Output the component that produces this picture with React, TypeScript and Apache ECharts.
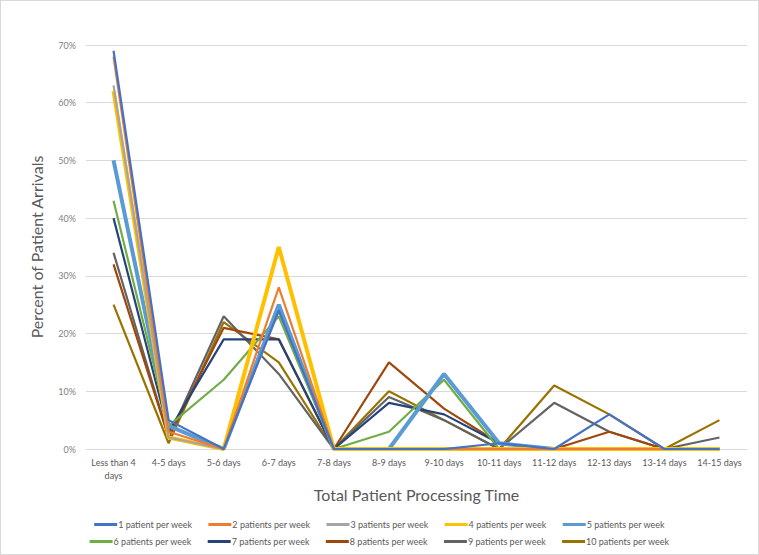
import React, { useEffect, useRef } from "react";
import * as echarts from "echarts";

const categories = [
  "Less than 4 days", "4-5 days", "5-6 days", "6-7 days", "7-8 days", "8-9 days",
  "9-10 days", "10-11 days", "11-12 days", "12-13 days", "13-14 days", "14-15 days",
];

const seriesNames = [
  "1 patient per week", "2 patients per week", "3 patients per week", "4 patients per week",
  "5 patients per week", "6 patients per week", "7 patients per week", "8 patients per week",
  "9 patients per week", "10 patients per week",
];

const s1 = [69, 5, 0, 24, 0, 0, 0, 1, 0, 6, 0, 0];
const s2 = [68, 3, 0, 28, 0, 0, 0, 0, 0, 0, 0, 0];
const s3 = [63, 2, 0, 24, 0, 0, 0, 0, 0, 0, 0, 0];
const s4 = [62, 2, 0, 35, 0, 0, 0, 0, 0, 0, 0, 0];
const s5 = [50, 4, 0, 25, 0, 0, 13, 1, 0, 0, 0, 0];
const s6 = [43, 4, 12, 23, 0, 3, 12, 0, 0, 0, 0, 0];
const s7 = [40, 3, 19, 19, 0, 8, 6, 1, 0, 0, 0, 0];
const s8 = [32, 2, 21, 19, 0, 15, 7, 1, 0, 3, 0, 0];
const s9 = [34, 2, 23, 13, 0, 9, 5, 0, 8, 3, 0, 2];
const s10 = [25, 1, 22, 15, 0, 10, 5, 0, 11, 6, 0, 5];

const seriesValues = [s1, s2, s3, s4, s5, s6, s7, s8, s9, s10];
const colors = [
  "#4472C4", "#ED7D31", "#A5A5A5", "#FFC000", "#5B9BD5",
  "#70AD47", "#264478", "#9E480E", "#636363", "#997300",
];
const widths = [2.2, 2.2, 2.2, 4, 4, 2.2, 2.2, 2.2, 2.2, 2.2];

const yTicks = [0, 10, 20, 30, 40, 50, 60, 70];

export default function App() {
  const ref = useRef<HTMLDivElement>(null);
  useEffect(() => {
    if (!ref.current) return;
    const chart = echarts.init(ref.current, null, { renderer: "svg" });
    const font = "Lato, 'Open Sans', sans-serif";
    const legendCommon = {
      icon: "rect",
      itemWidth: 23,
      itemHeight: 3,
      itemGap: 16,
      textStyle: { color: "#595959", fontSize: 9, fontFamily: font, padding: [0, 0, 0, -4] },
      left: "center",
    };
    chart.setOption({
      animation: false,
      backgroundColor: "#ffffff",
      color: colors,
      grid: { left: 85, right: 11, top: 44, bottom: 105 },
      legend: [
        { ...legendCommon, data: seriesNames.slice(0, 5), top: 514 },
        { ...legendCommon, data: seriesNames.slice(5), top: 531 },
      ],
      xAxis: {
        type: "category",
        data: categories,
        boundaryGap: true,
        name: "Total Patient Processing Time",
        nameLocation: "middle",
        nameGap: 37,
        nameTextStyle: { fontSize: 16, color: "#595959", fontFamily: font },
        axisLine: { lineStyle: { color: "#D9D9D9" } },
        axisTick: { show: false },
        axisLabel: {
          color: "#595959",
          fontSize: 9,
          lineHeight: 13,
          fontFamily: font,
          interval: 0,
          margin: 7,
          formatter: (v: string) => v.replace("Less than 4 days", "Less than 4\ndays"),
        },
      },
      yAxis: {
        type: "value",
        min: yTicks[0],
        max: yTicks[yTicks.length - 1],
        interval: 10,
        name: "Percent of Patient Arrivals",
        nameLocation: "middle",
        nameGap: 42,
        nameTextStyle: { fontSize: 16, color: "#595959", fontFamily: font },
        axisLine: { show: false },
        axisTick: { show: false },
        axisLabel: { color: "#7F7F7F", fontSize: 9, fontFamily: font, formatter: "{value}%", margin: 10 },
        splitLine: { lineStyle: { color: "#D9D9D9", width: 1 } },
      },
      series: seriesValues.map((vals, i) => ({
        name: seriesNames[i],
        type: "line",
        data: vals,
        symbol: "none",
        lineStyle: { width: widths[i], color: colors[i] },
        itemStyle: { color: colors[i] },
        z: 10 - i,
      })),
    });
    return () => chart.dispose();
  }, []);
  return (
    <div
      ref={ref}
      style={{
        position: "fixed",
        left: 0,
        top: 0,
        width: 759,
        height: 555,
        boxSizing: "border-box",
        border: "1px solid #D9D9D9",
      }}
    />
  );
}
